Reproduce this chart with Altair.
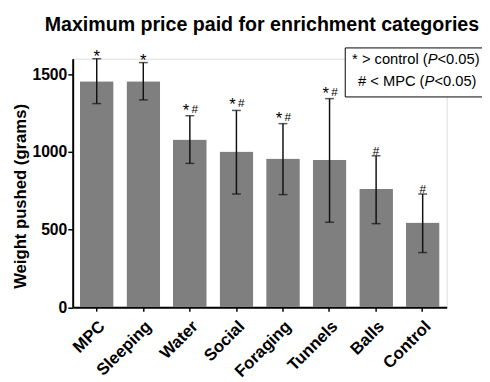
import altair as alt
import pandas as pd

categories = ["MPC", "Sleeping", "Water", "Social", "Foraging", "Tunnels", "Balls", "Control"]
means = [1455, 1455, 1080, 1002, 957, 950, 762, 545]
err_low = [1311, 1335, 926, 729, 725, 547, 538, 352]
err_high = [1600, 1575, 1233, 1267, 1182, 1343, 975, 729]
signif = ["*", "*", "*#", "*#", "*#", "*#", "#", "#"]

df = pd.DataFrame({"cat": categories, "mean": means, "lo": err_low, "hi": err_high, "sig": signif})

FONT = "Liberation Sans"

xenc = alt.X("cat:N", sort=categories,
             scale=alt.Scale(paddingInner=0.276, paddingOuter=0.154),
             axis=alt.Axis(title=None, labelAngle=-45, labelFontSize=17, labelFontWeight="bold",
                           labelFont=FONT, labelColor="black", labelAlign="right", labelBaseline="top",
                           labelPadding=7, domainColor="black", domainWidth=2, tickColor="black",
                           tickWidth=1.5, tickSize=4))
yscale = alt.Scale(domain=[0, 1600], nice=False)
yaxis = alt.Axis(title="Weight pushed (grams)", values=[0, 500, 1000, 1500], format="d",
                 labelFontSize=16, labelFontWeight="bold", labelFont=FONT, labelColor="black",
                 titleFont=FONT, titleFontSize=17, titleFontWeight="bold", titleColor="black",
                 titlePadding=3, titleY=140, domainColor="black", domainWidth=2, tickColor="black",
                 tickWidth=1.5, tickSize=5, labelPadding=1, grid=False)

base = alt.Chart(df)

bars = base.mark_bar(color="#7f7f7f", cornerRadius=1).encode(
    x=xenc, y=alt.Y("mean:Q", scale=yscale, axis=yaxis))
rule = base.mark_rule(color="#111111", strokeWidth=1.5).encode(
    x=alt.X("cat:N", sort=categories), y="lo:Q", y2="hi:Q")
cap_hi = base.mark_tick(color="#111111", thickness=1.5, size=9, orient="horizontal").encode(
    x=alt.X("cat:N", sort=categories), y="hi:Q")
cap_lo = base.mark_tick(color="#111111", thickness=1.5, size=9, orient="horizontal").encode(
    x=alt.X("cat:N", sort=categories), y="lo:Q")

star_only = base.transform_filter("datum.sig == '*'").mark_text(
    text="*", font=FONT, fontSize=17, baseline="alphabetic", dy=3, color="black").encode(
    x=alt.X("cat:N", sort=categories), y="hi:Q")
star_pair = base.transform_filter("datum.sig == '*#'").mark_text(
    text="*", font=FONT, fontSize=17, baseline="alphabetic", dy=0, dx=-4, color="black").encode(
    x=alt.X("cat:N", sort=categories), y="hi:Q")
hash_pair = base.transform_filter("datum.sig == '*#'").mark_text(
    text="#", font=FONT, fontSize=12, baseline="alphabetic", dy=-3, dx=5, color="black").encode(
    x=alt.X("cat:N", sort=categories), y="hi:Q")
hash_only = base.transform_filter("datum.sig == '#'").mark_text(
    text="#", font=FONT, fontSize=12, baseline="alphabetic", dy=-1, color="black").encode(
    x=alt.X("cat:N", sort=categories), y="hi:Q")

one = alt.Data(values=[{"k": 1}])
box = alt.Chart(one).mark_rect(fill="white", stroke="black", strokeWidth=1).encode(
    x=alt.value(278), x2=alt.value(419), y=alt.value(-11), y2=alt.value(39))

def seg(text, x, y, italic=False):
    return alt.Chart(one).mark_text(text=text, font=FONT, fontSize=15, align="left",
                                    baseline="alphabetic", color="black",
                                    fontStyle="italic" if italic else "normal").encode(
        x=alt.value(x), y=alt.value(y))

w1 = 5.141 * 15
w2 = 4.529 * 15
pw = 0.667 * 15
leg = [
    seg("* > control (", 285, 5), seg("P", 285 + w1, 5, True), seg("<0.05)", 285 + w1 + pw, 5),
    seg("# < MPC (", 291, 28), seg("P", 291 + w2, 28, True), seg("<0.05)", 291 + w2 + pw, 28),
]

title = alt.Chart(one).mark_text(text="Maximum price paid for enrichment categories", font=FONT,
                                 fontSize=20, fontWeight="bold", color="black", align="center",
                                 baseline="alphabetic").encode(x=alt.value(193), y=alt.value(-28))

chart = alt.layer(bars, rule, cap_hi, cap_lo, star_only, star_pair, hash_pair, hash_only, box,
                  *leg, title).properties(
    width=381.5, height=253.5,
    autosize=alt.AutoSizeParams(type="none"),
    padding={"left": 66, "top": 48, "right": 36, "bottom": 70},
).configure_view(stroke=None).configure(background="white")

chart.save("out.html", embed_options={"renderer": "svg", "actions": False})
